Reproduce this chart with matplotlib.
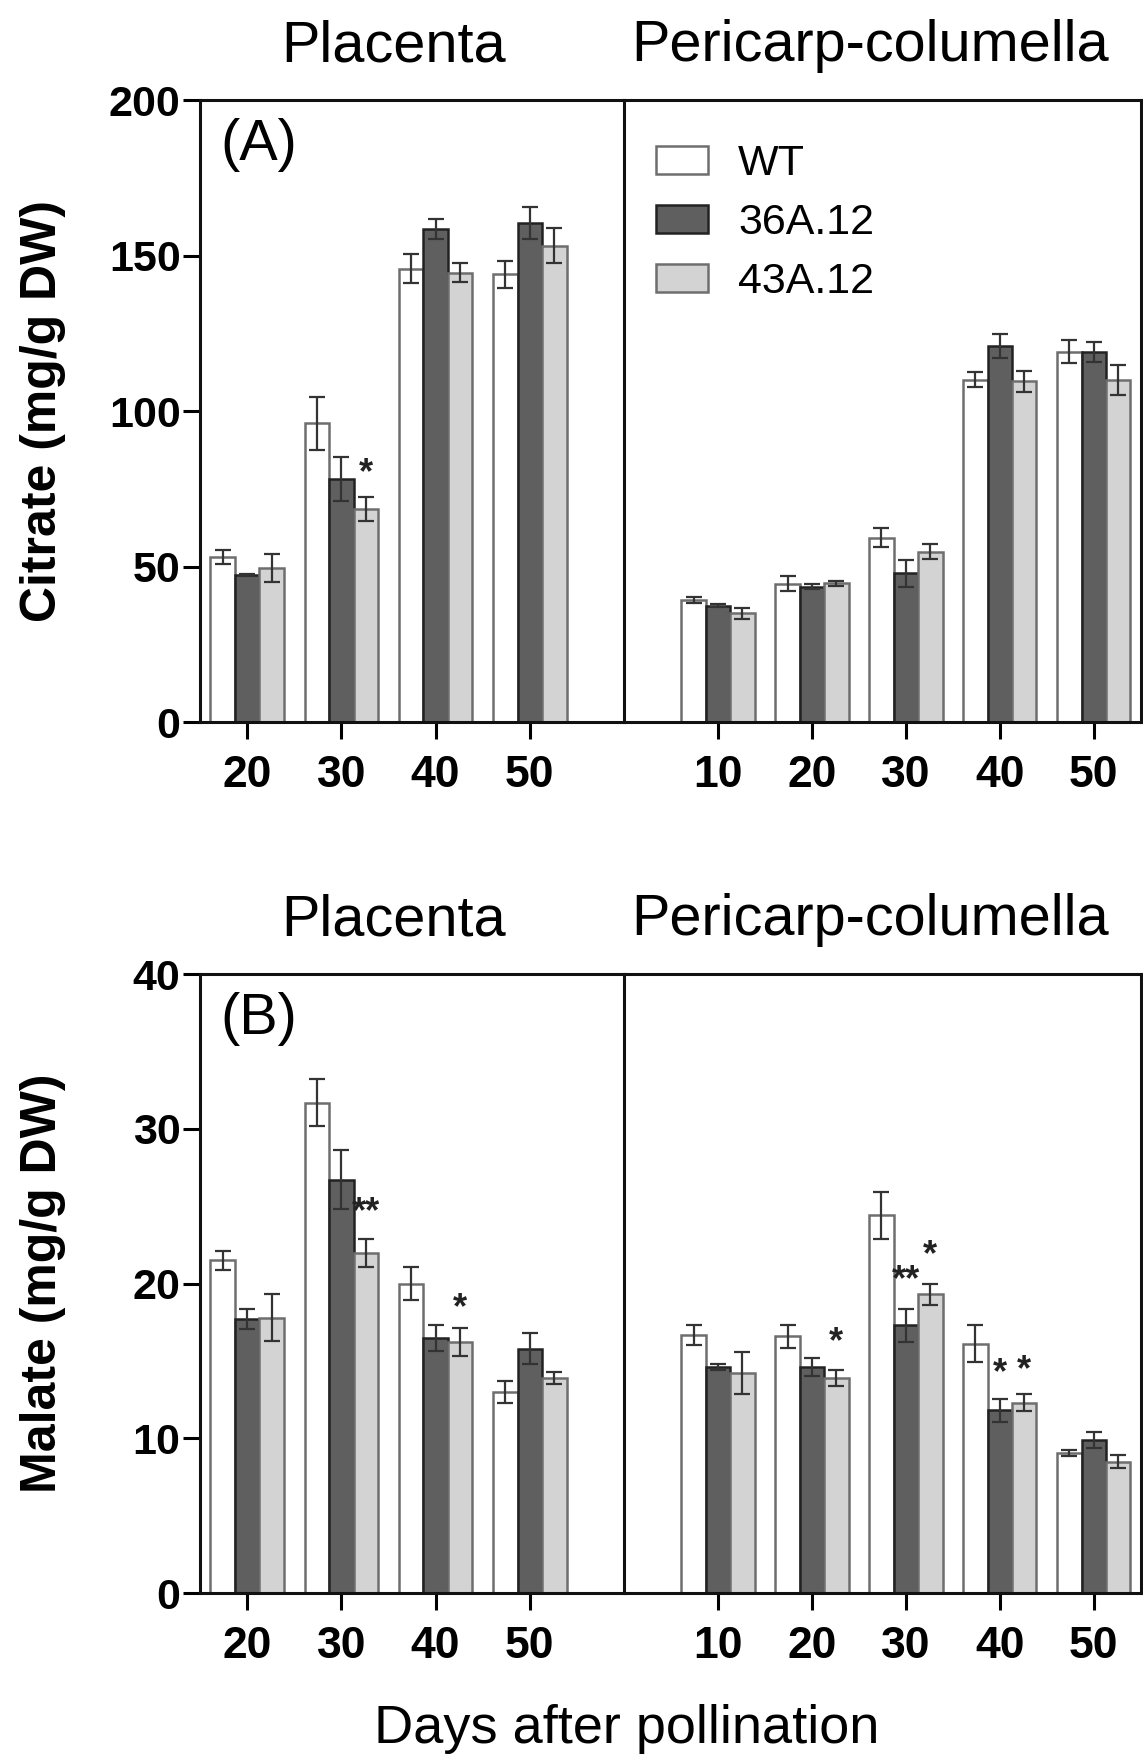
import numpy as np
import matplotlib
matplotlib.use('Agg')
import matplotlib.pyplot as plt
from matplotlib.patches import Patch

plt.rcParams['font.family'] = ['Liberation Sans', 'DejaVu Sans']

series = ['WT', '36A.12', '43A.12']
face_colors = ['#ffffff', '#5f5f5f', '#d3d3d3']
edge_colors = ['#6e6e6e', '#222222', '#6e6e6e']

# citrate, mg/g DW
plac_days = ['20', '30', '40', '50']
peri_days = ['10', '20', '30', '40', '50']

citrate_plac = [[53.0, 96.0, 145.8, 144.0],
                [47.2, 78.2, 158.4, 160.4],
                [49.6, 68.5, 144.5, 153.2]]
citrate_plac_err = [[2.2, 8.4, 4.7, 4.3],
                    [0.3, 7.0, 3.2, 5.2],
                    [4.5, 4.0, 3.0, 5.7]]
citrate_peri = [[39.2, 44.5, 59.3, 110.0, 119.0],
                [37.4, 43.5, 47.8, 120.8, 119.0],
                [35.0, 44.6, 54.7, 109.5, 110.0]]
citrate_peri_err = [[1.0, 2.5, 3.0, 2.4, 3.7],
                    [0.5, 0.8, 4.4, 3.9, 3.2],
                    [1.8, 0.8, 2.4, 3.4, 4.8]]

# malate, mg/g DW
malate_plac = [[21.5, 31.7, 20.0, 13.0],
               [17.7, 26.7, 16.5, 15.8],
               [17.8, 22.0, 16.2, 13.9]]
malate_plac_err = [[0.6, 1.5, 1.05, 0.7],
                   [0.65, 1.9, 0.85, 1.0],
                   [1.5, 0.9, 0.9, 0.4]]
malate_peri = [[16.7, 16.6, 24.4, 16.1, 9.05],
               [14.6, 14.6, 17.3, 11.8, 9.9],
               [14.2, 13.9, 19.3, 12.3, 8.5]]
malate_peri_err = [[0.65, 0.75, 1.5, 1.2, 0.2],
                   [0.2, 0.6, 1.05, 0.75, 0.5],
                   [1.35, 0.5, 0.7, 0.55, 0.4]]

# significance marks: (group, series, label, y)
stars_citrate_plac = [(1, 2, '*', 80)]
stars_citrate_peri = []
stars_malate_plac = [(1, 2, '**', 24.6), (2, 2, '*', 18.4)]
stars_malate_peri = [(1, 2, '*', 16.2), (2, 1, '**', 20.2), (2, 2, '*', 21.8),
                     (3, 1, '*', 14.2), (3, 2, '*', 14.4)]

W = 0.26
TICK_FS = 31
TITLE_FS = 41.5


def draw_bars(ax, days, values, errs, stars):
    x = np.arange(len(days))
    for k in range(3):
        ax.bar(x + (k - 1) * W, values[k], W, color=face_colors[k],
               edgecolor=edge_colors[k], linewidth=1.8, zorder=2)
        ax.errorbar(x + (k - 1) * W, values[k], yerr=errs[k], fmt='none',
                    ecolor='#333333', elinewidth=1.6, capsize=6, capthick=1.6, zorder=3)
    for g, k, lab, y in stars:
        ax.text(g + (k - 1) * W, y, lab, ha='center', va='center',
                fontsize=26, fontweight='bold', color='#222222')
    ax.set_xticks(x)
    ax.set_xticklabels(days, fontsize=32, fontweight='bold')
    ax.tick_params(axis='x', direction='out', length=12, width=2.2, pad=12)
    ax.tick_params(axis='y', direction='out', length=12, width=2.2, pad=2)
    for s in ax.spines.values():
        s.set_linewidth(2.2)
        s.set_color('#111111')


def make_row(fig, bottom, top, ylim, yticks, ylabel, panel, data, legend=False):
    left_x, mid_x, right_x = 0.175, 0.546, 0.998
    ax1 = fig.add_axes([left_x, bottom, mid_x - left_x, top - bottom])
    ax2 = fig.add_axes([mid_x, bottom, right_x - mid_x, top - bottom])
    ax2.patch.set_visible(False)
    draw_bars(ax1, plac_days, data[0], data[1], data[2])
    draw_bars(ax2, peri_days, data[3], data[4], data[5])
    ax1.set_xlim(-0.5, 4.0)
    ax2.set_xlim(-1.0, 4.5)
    for ax in (ax1, ax2):
        ax.set_ylim(*ylim)
    ax1.set_yticks(yticks)
    ax1.set_yticklabels([str(t) for t in yticks], fontsize=TICK_FS, fontweight='bold')
    ax2.set_yticks([])
    ax2.spines['left'].set_visible(False)
    ax1.set_ylabel(ylabel, fontsize=36, fontweight='bold')
    ax1.yaxis.set_label_coords(-0.317, 0.5)
    ax1.set_title('Placenta', fontsize=TITLE_FS, pad=28, x=0.456)
    ax2.set_title('Pericarp-columella', fontsize=TITLE_FS, pad=28, x=0.477)
    ax1.text(0.047, 0.971, panel, transform=ax1.transAxes, fontsize=TITLE_FS,
             ha='left', va='top')
    if legend:
        handles = [Patch(facecolor=face_colors[k], edgecolor=edge_colors[k],
                         linewidth=1.8) for k in range(3)]
        ax2.legend(handles, series, loc='upper left', bbox_to_anchor=(0.062, 0.929),
                   frameon=False, fontsize=31, handlelength=1.2, handleheight=0.6,
                   handletextpad=0.7, labelspacing=0.44, borderpad=0,
                   borderaxespad=0)
    return ax1, ax2


fig = plt.figure(figsize=(11.43, 17.64), dpi=100)

make_row(fig, 0.5907, 0.9433, (0, 200), [0, 50, 100, 150, 200],
         'Citrate (mg/g DW)', '(A)',
         [citrate_plac, citrate_plac_err, stars_citrate_plac,
          citrate_peri, citrate_peri_err, stars_citrate_peri], legend=True)
make_row(fig, 0.0969, 0.4478, (0, 40), [0, 10, 20, 30, 40],
         'Malate (mg/g DW)', '(B)',
         [malate_plac, malate_plac_err, stars_malate_plac,
          malate_peri, malate_peri_err, stars_malate_peri])

fig.text(0.548, 0.012, 'Days after pollination', fontsize=39,
         ha='center', va='baseline')

fig.savefig('out.png', dpi=100)
